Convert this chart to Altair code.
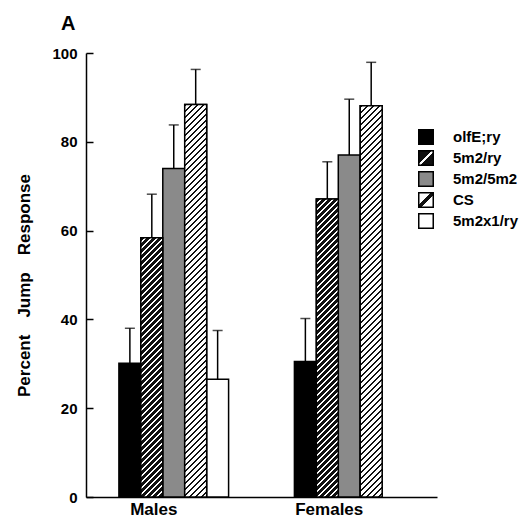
import math
import altair as alt
import pandas as pd

groups = ["Males", "Females"]
genotypes = ["olfE;ry", "5m2/ry", "5m2/5m2", "CS", "5m2x1/ry"]
males_mean = [30.1, 58.4, 74.0, 88.4, 26.5]
males_err = [7.9, 9.8, 9.8, 7.9, 11.0]
females_mean = [30.5, 67.1, 77.0, 88.1]
females_err = [9.7, 8.4, 12.6, 9.8]
y_ticks = [0, 20, 40, 60, 80, 100]

rows = []
for g, means, errs in [("Males", males_mean, males_err), ("Females", females_mean, females_err)]:
    for gen, m, e in zip(genotypes, means, errs):
        rows.append({"group": g, "genotype": gen, "mean": m, "upper": round(m + e, 2)})
df = pd.DataFrame(rows)

PLOT_W = 351
PLOT_H = 444
P_IN = 0.375
P_OUT = 0.1875
BAR_W = PLOT_W / 2 * (1 - P_IN) / 5


def stripes(w, h, dark_frac, period, dark, light):
    n = (w + h) / period
    k = (w + h) / (w * w + h * h)
    stops = []
    for i in range(math.ceil(n)):
        a = i / n
        b = min((i + dark_frac) / n, 1.0)
        c = min((i + 1) / n, 1.0)
        stops += [
            alt.GradientStop(color=dark, offset=round(a, 5)),
            alt.GradientStop(color=dark, offset=round(b, 5)),
            alt.GradientStop(color=light, offset=round(b, 5)),
            alt.GradientStop(color=light, offset=round(c, 5)),
        ]
    return alt.LinearGradient(gradient="linear", stops=stops, x1=0, y1=0,
                              x2=round(w * k, 6), y2=round(h * k, 6))


def swatch_expr(bg, fg, lo, hi):
    return {"expr": "{gradient: 'linear', x1: 0, y1: 0, x2: 1, y2: 1, stops: ["
            f"{{offset: 0, color: '{bg}'}}, {{offset: {lo}, color: '{bg}'}}, "
            f"{{offset: {lo}, color: '{fg}'}}, {{offset: {hi}, color: '{fg}'}}, "
            f"{{offset: {hi}, color: '{bg}'}}, {{offset: 1, color: '{bg}'}}]}}"}


fill_range = ["#000000", swatch_expr("#111111", "#ffffff", 0.44, 0.56), "#8a8a8a",
              swatch_expr("#ffffff", "#111111", 0.42, 0.58), "#ffffff"]

x_enc = alt.X("group:N", sort=groups,
              scale=alt.Scale(domain=groups, paddingInner=P_IN, paddingOuter=P_OUT),
              axis=alt.Axis(title=None, ticks=False, labelAngle=0, labelFontSize=17,
                            labelFontWeight="bold", labelColor="black", labelPadding=4,
                            labelOffset=-20, domainColor="black", domainWidth=1.5))
xo_enc = alt.XOffset("genotype:N", sort=genotypes, scale=alt.Scale(domain=genotypes))
y_scale = alt.Scale(domain=[0, 100], nice=False)

base = alt.Chart(df).mark_bar(stroke="black", strokeWidth=1.5).encode(
    x=x_enc,
    xOffset=xo_enc,
    y=alt.Y("mean:Q", scale=y_scale,
            axis=alt.Axis(values=y_ticks, tickSize=0, labelFontSize=15, labelFontWeight="bold",
                          labelColor="black", labelPadding=9, domainColor="black",
                          domainWidth=1.5, grid=False,
                          title="Percent\u2003Jump\u2003Response", titleFontSize=17,
                          titleFontWeight="bold", titleColor="black", titleX=-62, titleY=232,
                          titleAngle=270, titleAlign="center", titleBaseline="middle")),
    fill=alt.Fill("genotype:N", sort=genotypes,
                  scale=alt.Scale(domain=genotypes, range=fill_range),
                  legend=alt.Legend(orient="none", legendX=332, legendY=76, title=None,
                                    symbolType="square", symbolSize=210,
                                    symbolStrokeColor="black", symbolStrokeWidth=1.5,
                                    labelFontSize=15, labelFontWeight="bold",
                                    labelColor="black", labelOffset=19, rowPadding=-1)),
)

layers = [base]
hatch = {"5m2/ry": (0.6, "#111111", "#ffffff"), "CS": (0.42, "#111111", "#ffffff")}
for g, means in [("Males", males_mean), ("Females", females_mean)]:
    for gen, m in zip(genotypes, means):
        if gen not in hatch:
            continue
        frac, dark, light = hatch[gen]
        grad = stripes(BAR_W, m / 100 * PLOT_H, frac, 6.0, dark, light)
        layers.append(
            alt.Chart(df).transform_filter(
                (alt.datum.group == g) & (alt.datum.genotype == gen)
            ).mark_bar(fill=grad, stroke="black", strokeWidth=1.5).encode(
                x=x_enc, xOffset=xo_enc, y=alt.Y("mean:Q", scale=y_scale, axis=None)
            )
        )

rules = alt.Chart(df).mark_rule(color="black", strokeWidth=1.5).encode(
    x=x_enc, xOffset=xo_enc,
    y=alt.Y("mean:Q", scale=y_scale,
            axis=alt.Axis(orient="right", offset=-PLOT_W, values=y_ticks, labels=False,
                          domain=False, ticks=True, tickSize=7, tickWidth=1.5,
                          tickColor="black", grid=False, title=None)),
    y2="upper:Q",
)
caps = alt.Chart(df).mark_tick(color="black", thickness=1.5, size=10).encode(
    x=x_enc, xOffset=xo_enc, y=alt.Y("upper:Q", scale=y_scale, axis=None)
)
layers += [rules, caps]

chart = alt.layer(*layers).resolve_axis(y="independent").properties(
    width=PLOT_W, height=PLOT_H,
    autosize=alt.AutoSizeParams(type="none"),
    padding={"left": 78, "top": 45, "right": 82, "bottom": 20},
    title=alt.TitleParams("A", anchor="start", frame="group", fontSize=20, fontWeight="bold",
                          color="black", dx=-25, offset=-8, baseline="bottom"),
).configure(font="Liberation Sans").configure_view(stroke=None)

chart.save("out.html", embed_options={"renderer": "svg", "actions": False})
